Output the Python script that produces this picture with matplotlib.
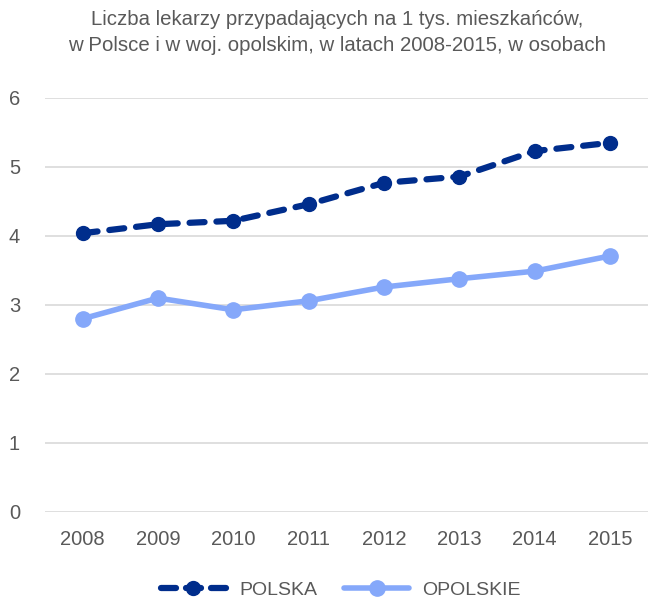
import matplotlib
matplotlib.use("Agg")
import matplotlib.pyplot as plt

years = ["2008", "2009", "2010", "2011", "2012", "2013", "2014", "2015"]
polska = [4.04, 4.17, 4.22, 4.46, 4.77, 4.86, 5.23, 5.35]
opolskie = [2.80, 3.10, 2.93, 3.06, 3.26, 3.38, 3.49, 3.71]
yticks = [0, 1, 2, 3, 4, 5, 6]
title = ("Liczba lekarzy przypadających na 1 tys. mieszkańców,\n"
         "w Polsce i w woj. opolskim, w latach 2008-2015, w osobach")

plt.rcParams["font.family"] = ["Liberation Sans", "DejaVu Sans"]
text_color = "#595959"

fig = plt.figure(figsize=(6.48, 6.03), dpi=100)
ax = fig.add_axes([0.0694, 0.151, 0.930, 0.6865])

x = list(range(len(years)))
ax.plot(x, polska, color="#002D8C", lw=4.5, ls=(0, (2.4, 1.9)),
        marker="o", ms=10, dash_capstyle="round", label="POLSKA", zorder=3)
ax.plot(x, opolskie, color="#85A8FA", lw=4, marker="o", ms=11,
        solid_capstyle="round", label="OPOLSKIE", zorder=3)

ax.set_xlim(-0.5, len(years) - 0.5)
ax.set_ylim(0, 6)
ax.set_yticks(yticks)
ax.set_xticks(x)
ax.set_xticklabels(years)
ax.grid(axis="y", color="#D9D9D9", lw=1.2)
ax.set_axisbelow(True)
for s in ax.spines.values():
    s.set_visible(False)
ax.tick_params(length=0, labelsize=14.5, colors=text_color)
ax.tick_params(axis="x", pad=13)
ax.tick_params(axis="y", pad=18)

fig.text(0.52, 0.983, title, ha="center", va="top", fontsize=14.7,
         color=text_color, linespacing=1.45)

leg = fig.legend(loc="center", bbox_to_anchor=(0.526, 0.022), ncol=2,
                 frameon=False, fontsize=14, handlelength=3.35,
                 columnspacing=1.4, handletextpad=0.67)
for t in leg.get_texts():
    t.set_color(text_color)
# symmetric dash pattern for the short legend sample
leg.get_lines()[0].set_linestyle((0, (2.4, 1.6)))

fig.savefig("out.png", dpi=100)
